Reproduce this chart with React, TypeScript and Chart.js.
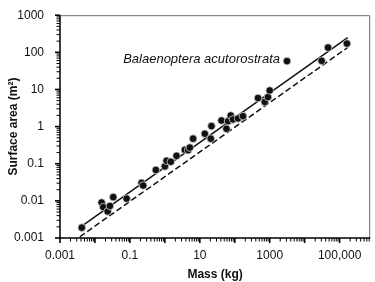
import React, { useEffect, useRef } from "react";
import { Chart, registerables } from "chart.js";

Chart.register(...registerables);

// ---- data ----
const massKg = [
  0.0042, 0.0155, 0.0173, 0.0231, 0.0268, 0.0334, 0.0805, 0.216, 0.24, 0.553,
  1.0, 1.12, 1.48, 2.16, 3.73, 4.63, 5.18, 6.44, 13.9, 20.6, 21.6, 41.7, 58,
  64.4, 76.9, 89.3, 124, 172, 463, 720, 893, 1000, 30600, 46600, 162000,
];
const surfaceArea = [
  0.0019, 0.009, 0.0068, 0.0052, 0.0073, 0.0126, 0.0115, 0.0305, 0.0259, 0.068,
  0.0847, 0.12, 0.113, 0.163, 0.236, 0.232, 0.272, 0.473, 0.643, 0.473, 1.03,
  1.46, 0.873, 1.4, 1.99, 1.56, 1.66, 1.91, 5.86, 4.6, 6.23, 9.4, 59, 134, 172,
];
const whaleMass = [3120];
const whaleArea = [58];
const whaleLabel = "Balaenoptera acutorostrata";

const solidFitMass = [0.0042, 170000];
const solidFitArea = [0.0021, 250];
const dashedFitMass = [0.0037, 170000];
const dashedFitArea = [0.00108, 135];

const xTickValues = [0.001, 0.1, 10, 1000, 100000];
const xTickLabels = ["0.001", "0.1", "10", "1000", "100,000"];
const yTickValues = [0.001, 0.01, 0.1, 1, 10, 100, 1000];
const yTickLabels = ["0.001", "0.01", "0.1", "1", "10", "100", "1000"];

const xMin = 0.001;
const xMax = 750000;
const yMin = 0.001;
const yMax = 1000;

const FONT = "'Liberation Sans', Arial, Helvetica, sans-serif";

const labelFor = (vals: number[], labels: string[], v: number) => {
  const i = vals.findIndex((t) => Math.abs(Math.log10(t) - Math.log10(v)) < 1e-6);
  return i >= 0 ? labels[i] : "";
};

const decorPlugin = {
  id: "decor",
  afterDraw(chart: any) {
    const { ctx, chartArea: a, scales } = chart;
    const xs = scales.x;
    const ys = scales.y;
    ctx.save();
    // top & right frame
    ctx.strokeStyle = "#6a6a6a";
    ctx.lineWidth = 1;
    ctx.beginPath();
    ctx.moveTo(a.left, a.top + 0.5);
    ctx.lineTo(a.right - 0.5, a.top + 0.5);
    ctx.lineTo(a.right - 0.5, a.bottom);
    ctx.stroke();
    // axis lines
    ctx.strokeStyle = "#000";
    ctx.lineWidth = 1.5;
    ctx.beginPath();
    ctx.moveTo(a.left, a.top);
    ctx.lineTo(a.left, a.bottom);
    ctx.lineTo(a.right, a.bottom);
    ctx.stroke();
    // log ticks (outward)
    for (let e = -3; e <= 5; e++) {
      for (let m = 1; m <= 9; m++) {
        const v = m * Math.pow(10, e);
        if (v < xMin * 0.999 || v > xMax) continue;
        const px = xs.getPixelForValue(v);
        ctx.lineWidth = m === 1 ? 1.6 : 1;
        const len = m === 1 ? 5 : 3.5;
        ctx.beginPath();
        ctx.moveTo(px, a.bottom);
        ctx.lineTo(px, a.bottom + len);
        ctx.stroke();
      }
    }
    for (let e = -3; e <= 3; e++) {
      for (let m = 1; m <= 9; m++) {
        const v = m * Math.pow(10, e);
        if (v < yMin * 0.999 || v > yMax * 1.001) continue;
        const py = ys.getPixelForValue(v);
        ctx.lineWidth = m === 1 ? 1.6 : 1;
        const len = m === 1 ? 5 : 3.5;
        ctx.beginPath();
        ctx.moveTo(a.left, py);
        ctx.lineTo(a.left - len, py);
        ctx.stroke();
      }
    }
    // annotation
    ctx.font = `italic 13px ${FONT}`;
    ctx.fillStyle = "#111";
    ctx.textAlign = "right";
    ctx.textBaseline = "middle";
    ctx.fillText(
      whaleLabel,
      xs.getPixelForValue(whaleMass[0]) - 7,
      ys.getPixelForValue(whaleArea[0]) - 2
    );
    ctx.restore();
  },
};

export default function App() {
  const ref = useRef<HTMLCanvasElement | null>(null);

  useEffect(() => {
    if (!ref.current) return;
    const pts = massKg.map((x, i) => ({ x, y: surfaceArea[i] }));
    const whale = whaleMass.map((x, i) => ({ x, y: whaleArea[i] }));
    const solid = solidFitMass.map((x, i) => ({ x, y: solidFitArea[i] }));
    const dashed = dashedFitMass.map((x, i) => ({ x, y: dashedFitArea[i] }));

    const chart = new Chart(ref.current, {
      type: "scatter",
      data: {
        datasets: [
          {
            type: "scatter",
            data: [...pts, ...whale],
            backgroundColor: "#111",
            borderColor: "rgba(215,215,215,0.95)",
            borderWidth: 0.8,
            pointRadius: 3.8,
            order: 0,
          } as any,
          {
            type: "line",
            data: solid,
            borderColor: "#111",
            borderWidth: 1.5,
            pointRadius: 0,
            fill: false,
            order: 1,
          } as any,
          {
            type: "line",
            data: dashed,
            borderColor: "#111",
            borderWidth: 1.5,
            borderDash: [6, 3],
            pointRadius: 0,
            fill: false,
            order: 2,
          } as any,
        ],
      },
      options: {
        animation: false,
        responsive: true,
        maintainAspectRatio: false,
        layout: { padding: { top: 13, right: 4.5, left: 0, bottom: 0 } },
        plugins: {
          legend: { display: false },
          tooltip: { enabled: false },
        },
        scales: {
          x: {
            type: "logarithmic",
            min: xMin,
            max: xMax,
            grid: { display: false },
            border: { display: false },
            afterBuildTicks: (s: any) => {
              s.ticks = xTickValues.map((v) => ({ value: v }));
            },
            afterFit: (s: any) => {
              s.height = 44;
            },
            ticks: {
              autoSkip: false,
              maxRotation: 0,
              minRotation: 0,
              padding: 2,
              color: "#111",
              font: { family: FONT, size: 12 },
              callback: (v: any) => labelFor(xTickValues, xTickLabels, Number(v)),
            },
            title: {
              display: true,
              text: "Mass (kg)",
              color: "#111",
              font: { family: FONT, size: 12, weight: "bold" },
              padding: { top: 0, bottom: 0 },
            },
          },
          y: {
            type: "logarithmic",
            min: yMin,
            max: yMax,
            grid: { display: false },
            border: { display: false },
            afterBuildTicks: (s: any) => {
              s.ticks = yTickValues.map((v) => ({ value: v }));
            },
            afterFit: (s: any) => {
              s.width = 60;
            },
            ticks: {
              autoSkip: false,
              padding: 8,
              color: "#111",
              font: { family: FONT, size: 12 },
              callback: (v: any) => labelFor(yTickValues, yTickLabels, Number(v)),
            },
            title: {
              display: true,
              text: "Surface area (m²)",
              color: "#111",
              font: { family: FONT, size: 12, weight: "bold" },
              padding: { top: 6, bottom: 0 },
            },
          },
        },
      } as any,
      plugins: [decorPlugin],
    });
    return () => chart.destroy();
  }, []);

  return (
    <div
      style={{
        position: "fixed",
        left: 0,
        top: 0,
        width: 375,
        height: 282,
        background: "#fff",
      }}
    >
      <canvas ref={ref} />
    </div>
  );
}
